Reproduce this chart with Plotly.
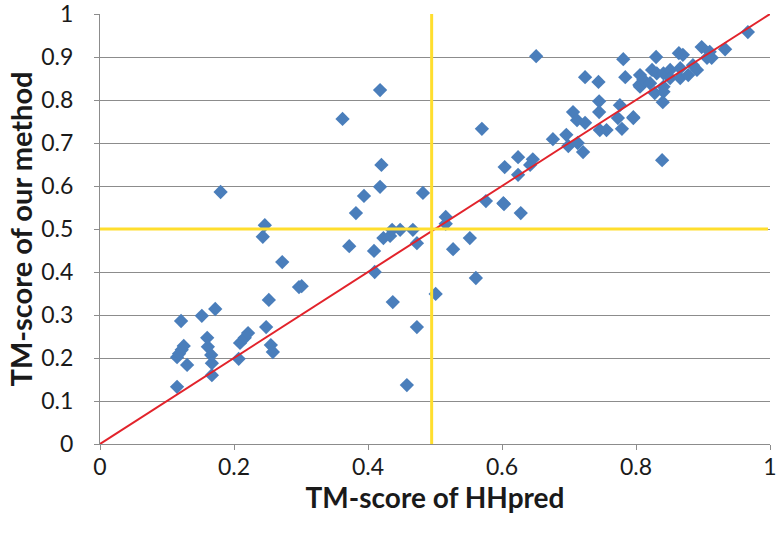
import plotly.graph_objects as go

# TM-score pairs (HHpred, our method)
hhpred = [
    0.121, 0.152, 0.172, 0.122, 0.115, 0.130, 0.115, 0.125, 0.118, 0.160,
    0.161, 0.166, 0.167, 0.167, 0.180, 0.207, 0.209, 0.216, 0.221, 0.246,
    0.243, 0.248, 0.252, 0.255, 0.258, 0.272, 0.297, 0.301, 0.362, 0.372,
    0.382, 0.394, 0.409, 0.410, 0.418, 0.418, 0.420, 0.423, 0.433, 0.436,
    0.437, 0.448, 0.458, 0.467, 0.473, 0.473, 0.482, 0.501, 0.516, 0.516,
    0.527, 0.552, 0.561, 0.570, 0.576, 0.603, 0.628, 0.602, 0.604, 0.624,
    0.624, 0.642, 0.646, 0.651, 0.676, 0.696, 0.699, 0.706, 0.712, 0.713,
    0.721, 0.724, 0.724, 0.744, 0.745, 0.745, 0.746, 0.756, 0.773, 0.776,
    0.779, 0.781, 0.784, 0.796, 0.796, 0.805, 0.806, 0.811, 0.821, 0.824,
    0.828, 0.830, 0.831, 0.839, 0.840, 0.841, 0.841, 0.841, 0.851, 0.851,
    0.864, 0.866, 0.866, 0.870, 0.878, 0.885, 0.891, 0.898, 0.906, 0.910,
    0.913, 0.933, 0.967, 0.806,
]
ours = [
    0.286, 0.298, 0.314, 0.219, 0.202, 0.184, 0.133, 0.228, 0.210, 0.247,
    0.226, 0.207, 0.188, 0.160, 0.586, 0.198, 0.235, 0.247, 0.258, 0.509,
    0.482, 0.272, 0.335, 0.230, 0.214, 0.423, 0.365, 0.367, 0.756, 0.460,
    0.537, 0.577, 0.449, 0.400, 0.823, 0.598, 0.649, 0.479, 0.484, 0.498,
    0.330, 0.498, 0.137, 0.498, 0.467, 0.272, 0.584, 0.349, 0.528, 0.512,
    0.453, 0.479, 0.386, 0.733, 0.565, 0.558, 0.537, 0.560, 0.644, 0.667,
    0.626, 0.649, 0.662, 0.902, 0.709, 0.719, 0.693, 0.772, 0.753, 0.700,
    0.679, 0.853, 0.747, 0.842, 0.797, 0.772, 0.730, 0.730, 0.758, 0.788,
    0.733, 0.895, 0.853, 0.758, 0.760, 0.835, 0.831, 0.847, 0.839, 0.870,
    0.816, 0.900, 0.862, 0.660, 0.795, 0.862, 0.831, 0.819, 0.870, 0.851,
    0.909, 0.874, 0.851, 0.905, 0.858, 0.881, 0.870, 0.923, 0.898, 0.912,
    0.898, 0.918, 0.958, 0.858,
]

diag = [0, 1]
threshold = 0.5

grid_gray = "#8c8c8c"

fig = go.Figure()

# yellow threshold lines
fig.add_shape(type="line", xref="x", yref="y",
              x0=0, x1=0.997, y0=threshold, y1=threshold,
              line=dict(color="#FFDE2E", width=3))
fig.add_shape(type="line", xref="x", yref="y",
              x0=threshold - 0.005, x1=threshold - 0.005, y0=0, y1=1.01,
              line=dict(color="#FFDE2E", width=3))

fig.add_trace(go.Scatter(
    x=hhpred, y=ours, mode="markers",
    marker=dict(symbol="diamond", size=11, color="#4A7EBB"),
    showlegend=False, cliponaxis=False,
))
fig.add_trace(go.Scatter(
    x=diag, y=diag, mode="lines",
    line=dict(color="#E2232B", width=2),
    showlegend=False,
))

fig.update_layout(
    width=784, height=539,
    margin=dict(l=100, r=14, t=14, b=95),
    plot_bgcolor="white", paper_bgcolor="white",
    font=dict(family="Lato", size=23, color="#1a1a1a"),
    xaxis=dict(
        range=[0, 1], dtick=0.2, showgrid=False, zeroline=False,
        showline=True, linecolor=grid_gray, ticks="outside",
        tickcolor=grid_gray, ticklen=5, automargin=False,
        ticklabeloverflow="allow", ticklabelstandoff=-3,
        title=dict(text="<b>TM-score of HHpred</b>", font=dict(size=28), standoff=0),
    ),
    yaxis=dict(
        range=[0, 1], dtick=0.1, showgrid=True, gridcolor=grid_gray,
        zeroline=False, showline=True, linecolor=grid_gray, ticks="outside",
        tickcolor=grid_gray, ticklen=5, automargin=False,
        ticklabeloverflow="allow", ticklabelstandoff=16,
        title=dict(text="<b>TM-score of our method</b>", font=dict(size=29), standoff=0),
    ),
)

# drop the default 8px page margin so the figure sits at the window corner
fig.write_html("out.html", config={"displayModeBar": False},
               post_script="document.body.style.margin = '0';")
